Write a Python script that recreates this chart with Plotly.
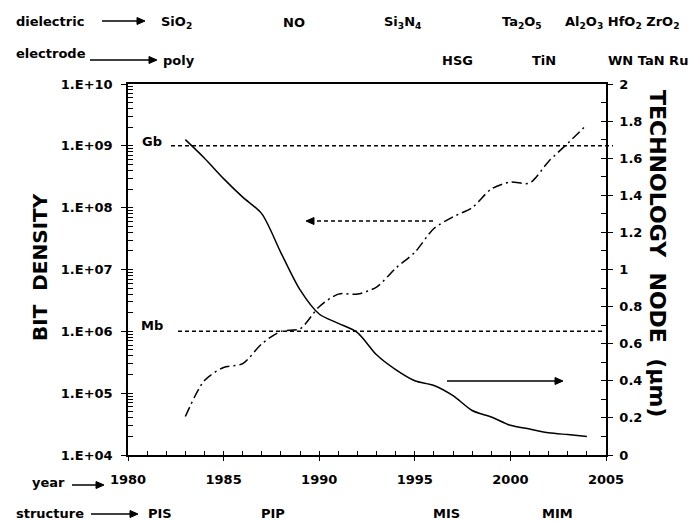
import math
import plotly.graph_objects as go

# ---------------- data ----------------
years = [1983, 1984, 1985, 1986, 1987, 1988, 1989, 1990, 1991, 1992, 1993,
         1994, 1995, 1996, 1997, 1998, 1999, 2000, 2001, 2002, 2003, 2004]
bit_density = [4.2e4, 1.6e5, 2.6e5, 3.0e5, 6.3e5, 1.0e6, 1.1e6, 2.5e6, 4.0e6,
               4.0e6, 5.2e6, 1.05e7, 1.9e7, 4.6e7, 7.1e7, 1.0e8, 2.0e8, 2.6e8,
               2.5e8, 5.6e8, 1.1e9, 2.2e9]
tech_node = [1.70, 1.60, 1.49, 1.39, 1.30, 1.09, 0.89, 0.76, 0.71, 0.66, 0.54,
             0.46, 0.40, 0.375, 0.32, 0.24, 0.205, 0.16, 0.14, 0.12, 0.11, 0.10]

year_ticks = [1980, 1985, 1990, 1995, 2000, 2005]
density_ticks = [1e4, 1e5, 1e6, 1e7, 1e8, 1e9, 1e10]
density_ticktext = ["1.E+04", "1.E+05", "1.E+06", "1.E+07", "1.E+08", "1.E+09", "1.E+10"]
node_ticks = [0, 0.2, 0.4, 0.6, 0.8, 1.0, 1.2, 1.4, 1.6, 1.8, 2.0]
node_ticktext = ["0", "0.2", "0.4", "0.6", "0.8", "1", "1.2", "1.4", "1.6", "1.8", "2"]

gigabit = 1e9
megabit = 1e6

dielectric_labels = ["SiO<sub>2</sub>", "NO", "Si<sub>3</sub>N<sub>4</sub>",
                     "Ta<sub>2</sub>O<sub>5</sub>",
                     "Al<sub>2</sub>O<sub>3</sub> HfO<sub>2</sub> ZrO<sub>2</sub>"]
electrode_labels = ["poly", "HSG", "TiN", "WN TaN Ru"]
structure_labels = ["PIS", "PIP", "MIS", "MIM"]

# ---------------- layout helpers ----------------
W, H = 692, 522
L, R, T, B = 128, 606, 84, 455
FONT = "DejaVu Sans"


def px(x):
    return (x - L) / (R - L)


def py(y):
    return (B - y) / (B - T)


def bold(size=13):
    return dict(family=FONT, size=size, color="black", weight="bold")


fig = go.Figure()

fig.add_trace(go.Scatter(
    x=years, y=bit_density, mode="lines", xaxis="x", yaxis="y",
    line=dict(color="black", width=1.5, dash="10px,4px,2px,4px",
              shape="spline", smoothing=0.8),
    showlegend=False, hoverinfo="skip"))
fig.add_trace(go.Scatter(
    x=years, y=tech_node, mode="lines", xaxis="x", yaxis="y2",
    line=dict(color="black", width=1.5, shape="spline", smoothing=0.8),
    showlegend=False, hoverinfo="skip"))
# invisible helpers so the overlay tick axes are drawn
fig.add_trace(go.Scatter(x=[1980], y=[1e4], xaxis="x2", yaxis="y3", mode="markers",
                         marker=dict(opacity=0, size=1), showlegend=False, hoverinfo="skip"))
fig.add_trace(go.Scatter(x=[1980], y=[0], xaxis="x", yaxis="y4", mode="markers",
                         marker=dict(opacity=0, size=1), showlegend=False, hoverinfo="skip"))

minor_log = [m * 10 ** k for k in range(4, 10) for m in range(1, 10)] + [1e10]

axis_common = dict(showgrid=False, zeroline=False, tickcolor="black", tickwidth=1)

fig.update_layout(
    width=W, height=H,
    margin=dict(l=L, r=W - R, t=T, b=H - B, pad=0),
    paper_bgcolor="white", plot_bgcolor="white",
    xaxis=dict(range=[1980, 2005], tickvals=year_ticks,
               ticktext=[str(v) for v in year_ticks],
               ticks="outside", ticklen=4, showline=True, linecolor="black",
               linewidth=1.5, mirror=True, tickfont=bold(13),
               ticklabelstandoff=8, **axis_common),
    xaxis2=dict(range=[1980, 2005], overlaying="x", anchor="y",
                tickvals=list(range(1980, 2006)), ticks="inside", ticklen=4,
                showticklabels=False, showline=False, **axis_common),
    yaxis=dict(type="log", range=[4, 10], tickvals=density_ticks,
               ticktext=density_ticktext, ticks="outside", ticklen=5,
               showline=True, linecolor="black", linewidth=1.5,
               tickfont=bold(13), ticklabelstandoff=6, **axis_common),
    yaxis2=dict(range=[0, 2], overlaying="y", side="right", anchor="x",
                tickvals=node_ticks, ticktext=node_ticktext,
                ticks="outside", ticklen=5, showline=True, linecolor="black",
                linewidth=1.5, tickfont=bold(13), ticklabelstandoff=4,
                **axis_common),
    yaxis3=dict(type="log", range=[4, 10], overlaying="y", side="left",
                anchor="x", tickvals=minor_log, ticks="inside", ticklen=5,
                showticklabels=False, showline=False, **axis_common),
    yaxis4=dict(range=[0, 2], overlaying="y", side="right", anchor="x",
                tickvals=[i / 10 for i in range(0, 21)], ticks="inside",
                ticklen=5, showticklabels=False, showline=False, **axis_common),
)

# Gb / Mb reference lines
for val, x0, x1 in [(gigabit, 171, 613), (megabit, 178, 603)]:
    yy = (math.log10(val) - 4) / 6
    fig.add_shape(type="line", xref="paper", yref="paper", x0=px(x0), x1=px(x1),
                  y0=yy, y1=yy, line=dict(color="black", width=1.5, dash="4px,3px"))

annotations = []


def label(text, x, y, size=13, angle=0, xanchor="center"):
    annotations.append(dict(text=text, x=px(x), y=py(y), xref="paper", yref="paper",
                            showarrow=False, font=bold(size), textangle=angle,
                            xanchor=xanchor, yanchor="middle"))


def arrow(x_tail, x_head, y, dash="solid", head_len=8, head_half=3.5):
    """Horizontal arrow drawn with shapes (pixel inputs -> paper coords)."""
    direction = 1 if x_head > x_tail else -1
    base = x_head - direction * head_len
    fig.add_shape(type="line", xref="paper", yref="paper",
                  x0=px(x_tail), x1=px(base), y0=py(y), y1=py(y),
                  line=dict(color="black", width=1.5, dash=dash))
    path = (f"M {px(x_head)},{py(y)} L {px(base)},{py(y - head_half)} "
            f"L {px(base)},{py(y + head_half)} Z")
    fig.add_shape(type="path", xref="paper", yref="paper", path=path,
                  fillcolor="black", line=dict(color="black", width=1))


label("Gb", 152, 141)
label("Mb", 152, 325)

# header rows
label("dielectric", 50, 21)
arrow(102, 145, 21)
for t, x in zip(dielectric_labels, [176, 294, 402, 522, 622]):
    label(t, x, 23)
label("electrode", 51, 53)
arrow(90, 157, 60)
for t, x in zip(electrode_labels, [179, 457, 544, 648]):
    label(t, x, 61)

# bottom rows
label("year", 48, 482)
arrow(72, 104, 485)
label("structure", 50, 513)
for t, x in zip(structure_labels, [160, 273, 446, 557]):
    label(t, x, 513)
arrow(91, 138, 514)

# axis titles
label("BIT\u00a0\u00a0DENSITY", 40, 267, size=20, angle=-90)
label("TECHNOLOGY\u00a0\u00a0NODE\u00a0\u00a0(\u03bcm)", 657, 253, size=22, angle=90)

# in-plot arrows
arrow(433, 306, 221, dash="4px,3px")
arrow(447, 563, 381)

fig.update_layout(annotations=annotations)

fig.write_html("out.html", config={"displayModeBar": False},
               post_script="document.body.style.margin='0';document.body.style.padding='0';")
